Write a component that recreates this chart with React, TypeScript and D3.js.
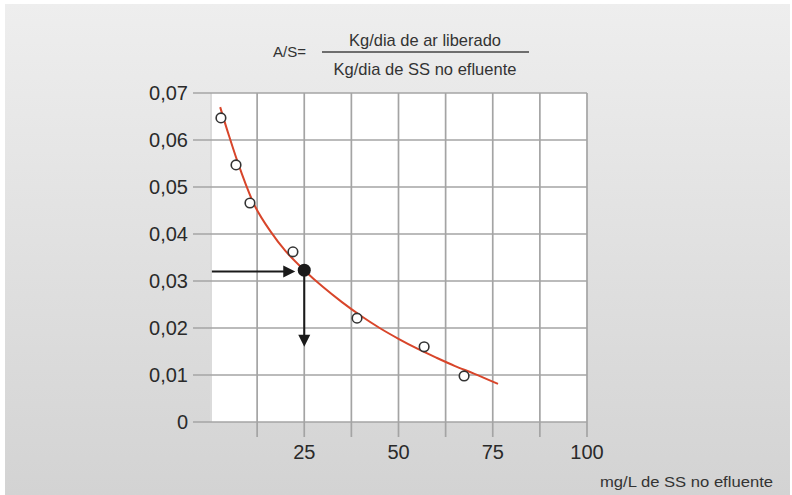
import React from "react";
import * as d3 from "d3";

// measured points (mg/L SS, A/S)
const pointX = [2.9, 6.9, 10.6, 22.0, 39.0, 56.8, 67.4];
const pointY = [0.0647, 0.0547, 0.0466, 0.0362, 0.0221, 0.016, 0.0098];

// fitted red curve
const curveX = [2.7, 5, 8, 12, 16, 20, 25, 30, 35, 40, 45, 50, 55, 60, 65, 70, 76.4];
const curveY = [0.067, 0.061, 0.0538, 0.0458, 0.0406, 0.0364, 0.0323, 0.0287, 0.0255, 0.0226, 0.02, 0.0177, 0.0156, 0.0137, 0.0119, 0.0103, 0.0081];

// reading: A/S 0.032 -> 25 mg/L
const readX = 25;
const readY = 0.0323;
const arrowStartY = 0.032;
const arrowEndY = 0.016;

const yTicks = [0, 0.01, 0.02, 0.03, 0.04, 0.05, 0.06, 0.07];
const yLabels = ["0", "0,01", "0,02", "0,03", "0,04", "0,05", "0,06", "0,07"];
const xGrid = [12.5, 25, 37.5, 50, 62.5, 75, 87.5, 100];
const xLabels = [25, 50, 75, 100];

const App = () => {
  const W = 792;
  const H = 495;
  const x = d3.scaleLinear().domain([0, 100]).range([210, 587]);
  const y = d3.scaleLinear().domain([0, 0.07]).range([422, 93]);

  const line = d3
    .line<number>()
    .curve(d3.curveCatmullRom)
    .x((d, i) => x(curveX[i]))
    .y(d => y(d));

  const font = "'Liberation Sans', Arial, sans-serif";
  const narrow = "'Liberation Sans Narrow', 'Liberation Sans', Arial, sans-serif";
  const ink = "#2a2a2a";
  const grid = "#a4a4a4";

  const ax = x(0.5);
  const ay = y(arrowStartY);
  const px = x(readX);
  const ey = y(arrowEndY);

  return (
    <svg width={W} height={H} style={{ position: "fixed", left: 0, top: 0 }}>
      <defs>
        <linearGradient id="bg" x1="0" x2="0" y1="0" y2="1">
          <stop offset="0%" stopColor="#eeeeee" />
          <stop offset="100%" stopColor="#d3d3d3" />
        </linearGradient>
      </defs>
      <rect x={0} y={0} width={W} height={H} fill="#ffffff" />
      <rect x={5} y={4} width={785} height={H - 4} fill="url(#bg)" />

      {/* title formula */}
      <g fill="#333" fontFamily={narrow}>
        <text x={273} y={57} fontSize={14} textLength={33} lengthAdjust="spacingAndGlyphs">A/S=</text>
        <text x={425} y={46} fontSize={17} textAnchor="middle" textLength={152} lengthAdjust="spacingAndGlyphs">
          Kg/dia de ar liberado
        </text>
        <line x1={322} x2={529} y1={52} y2={52} stroke="#444" strokeWidth={1.3} />
        <text x={425} y={75} fontSize={17} textAnchor="middle" textLength={183} lengthAdjust="spacingAndGlyphs">
          Kg/dia de SS no efluente
        </text>
      </g>

      {/* plot area */}
      <rect x={x(0)} y={y(0.07)} width={x(100) - x(0)} height={y(0) - y(0.07)} fill="#ffffff" />
      <line x1={x(0) + 1} x2={x(0) + 1} y1={y(0.07)} y2={y(0)} stroke="#cfcfcf" strokeWidth={1.5} />
      {xGrid.map(v => (
        <line key={v} x1={x(v)} x2={x(v)} y1={y(0.07)} y2={y(0) + 15} stroke={grid} strokeWidth={1.7} />
      ))}
      {yTicks.map(v => (
        <line key={v} x1={193} x2={x(100)} y1={y(v)} y2={y(v)} stroke={grid} strokeWidth={1.7} />
      ))}

      {yTicks.map((v, i) => (
        <text key={v} x={188} y={y(v) + 7} fontSize={20} fontFamily={font} fill={ink} textAnchor="end">
          {yLabels[i]}
        </text>
      ))}
      {xLabels.map(v => (
        <text key={v} x={x(v)} y={459} fontSize={20} fontFamily={font} fill={ink} textAnchor="middle">
          {v}
        </text>
      ))}
      <text x={600} y={487} fontSize={14} fontFamily={narrow} fill="#333" textLength={173} lengthAdjust="spacingAndGlyphs">
        mg/L de SS no efluente
      </text>

      {/* curve */}
      <path d={line(curveY) || ""} fill="none" stroke="#d8452a" strokeWidth={2} />

      {/* reading arrows */}
      <line x1={ax} x2={px - 20} y1={ay} y2={ay} stroke="#1a1a1a" strokeWidth={2} />
      <path d={`M${px - 9},${ay} L${px - 21},${ay - 6} L${px - 21},${ay + 6} Z`} fill="#1a1a1a" />
      <line x1={px} x2={px} y1={y(readY)} y2={ey - 10} stroke="#1a1a1a" strokeWidth={2} />
      <path d={`M${px},${ey} L${px - 6},${ey - 12} L${px + 6},${ey - 12} Z`} fill="#1a1a1a" />
      <circle cx={px} cy={y(readY)} r={6.5} fill="#1a1a1a" />

      {/* points */}
      {pointX.map((v, i) => (
        <circle key={i} cx={x(v)} cy={y(pointY[i])} r={4.8} fill="#ffffff" stroke="#333" strokeWidth={1.6} />
      ))}
    </svg>
  );
};

export default App;
